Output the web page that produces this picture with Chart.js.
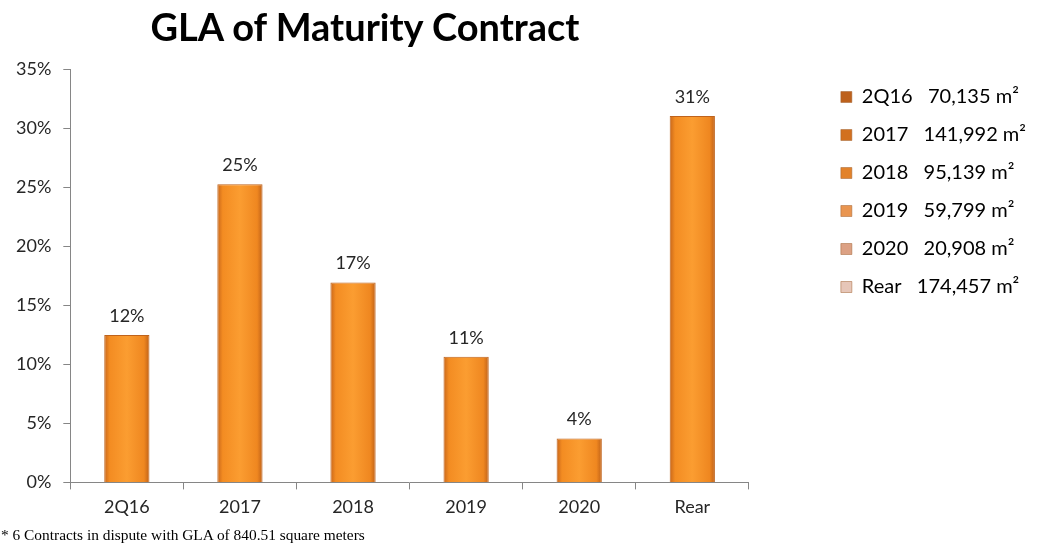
<!DOCTYPE html>
<html>
<head>
<meta charset="utf-8">
<script src="https://cdn.jsdelivr.net/npm/chart.js@4.4.0/dist/chart.umd.min.js"></script>
<style>
  body { margin: 0; background: #fff; }
  #wrap { position: relative; width: 1054px; height: 550px; }
  #title { position: absolute; left: 0; width: 730px; top: 3px; text-align: center;
           font: bold 38px Lato, sans-serif; color: #000; }
  #note { position: absolute; left: 1px; top: 526px; font: 15.4px "Liberation Serif", serif; color: #000; }
  canvas { position: absolute; left: 0; top: 0; }
</style>
</head>
<body>
<div id="wrap">
  <canvas id="chart" width="1054" height="550"></canvas>
  <div id="title">GLA of Maturity Contract</div>
  <div id="note">* 6 Contracts in dispute with GLA of 840.51 square meters</div>
</div>
<script>
const categories = ['2Q16', '2017', '2018', '2019', '2020', 'Rear'];
const areas = ['70,135', '141,992', '95,139', '59,799', '20,908', '174,457'];
const shares = [12.47, 25.25, 16.92, 10.63, 3.72, 31.02];
const shareLabels = ['12%', '25%', '17%', '11%', '4%', '31%'];
const legendColors = ['#bd611c', '#d2701f', '#e2822a', '#e99550', '#dca184', '#e6c6b8'];

const font = 'Lato, sans-serif';

const barFill = (context) => {
    const chart = context.chart;
    const scale = chart.scales.x;
    if (!chart.chartArea || !scale) return '#f7921f';
    const x = scale.getPixelForValue(context.dataIndex);
    const w = scale.width / categories.length * 0.4;
    const g = chart.ctx.createLinearGradient(x - w / 2, 0, x + w / 2, 0);
    g.addColorStop(0, '#c8661a');
    g.addColorStop(0.12, '#f38c22');
    g.addColorStop(0.5, '#fb9d31');
    g.addColorStop(0.88, '#ef8720');
    g.addColorStop(1, '#bf6118');
    return g;
};

const valueLabels = {
    id: 'valueLabels',
    afterDatasetsDraw(chart) {
        const ctx = chart.ctx;
        const meta = chart.getDatasetMeta(0);
        ctx.save();
        ctx.font = '18px ' + font;
        ctx.fillStyle = '#262626';
        ctx.textAlign = 'center';
        ctx.textBaseline = 'bottom';
        meta.data.forEach((bar, i) => {
            ctx.fillText(shareLabels[i], bar.x, bar.y - 10);
        });
        ctx.restore();
    }
};

new Chart(document.getElementById('chart'), {
    type: 'bar',
    data: {
        labels: categories,
        datasets: [{
            data: shares,
            backgroundColor: barFill,
            borderColor: '#bf631c',
            borderWidth: 1,
            categoryPercentage: 1,
            barPercentage: 0.4
        }]
    },
    options: {
        responsive: false,
        animation: false,
        layout: { padding: { top: 69, bottom: 25, left: 4, right: 18 } },
        plugins: {
            title: { display: false },
            tooltip: { enabled: false },
            legend: {
                position: 'right',
                align: 'start',
                labels: {
                    boxWidth: 11,
                    boxHeight: 11,
                    padding: 18,
                    color: '#262626',
                    font: { family: font, size: 20 },
                    generateLabels: () => categories.map((c, i) => ({
                        text: c + '   ' + areas[i] + ' m²',
                        fillStyle: legendColors[i],
                        strokeStyle: '#a0612e',
                        lineWidth: 0.5,
                        index: i
                    }))
                }
            }
        },
        scales: {
            x: {
                grid: { display: true, drawOnChartArea: false, tickLength: 7, color: '#868686' },
                border: { color: '#868686' },
                ticks: { color: '#262626', font: { family: font, size: 18 }, padding: 7 }
            },
            y: {
                min: 0,
                max: 35,
                grid: { display: true, drawOnChartArea: false, tickLength: 7, color: '#868686' },
                border: { color: '#868686' },
                ticks: {
                    stepSize: 5,
                    color: '#262626',
                    font: { family: font, size: 18 },
                    padding: 12,
                    callback: v => v + '%'
                }
            },
            // hidden axis, only keeps the gap between the plot and the legend
            gap: {
                type: 'linear',
                position: 'right',
                display: false,
                afterFit: s => { s.width = 74; }
            }
        }
    },
    plugins: [valueLabels]
});
</script>
</body>
</html>
